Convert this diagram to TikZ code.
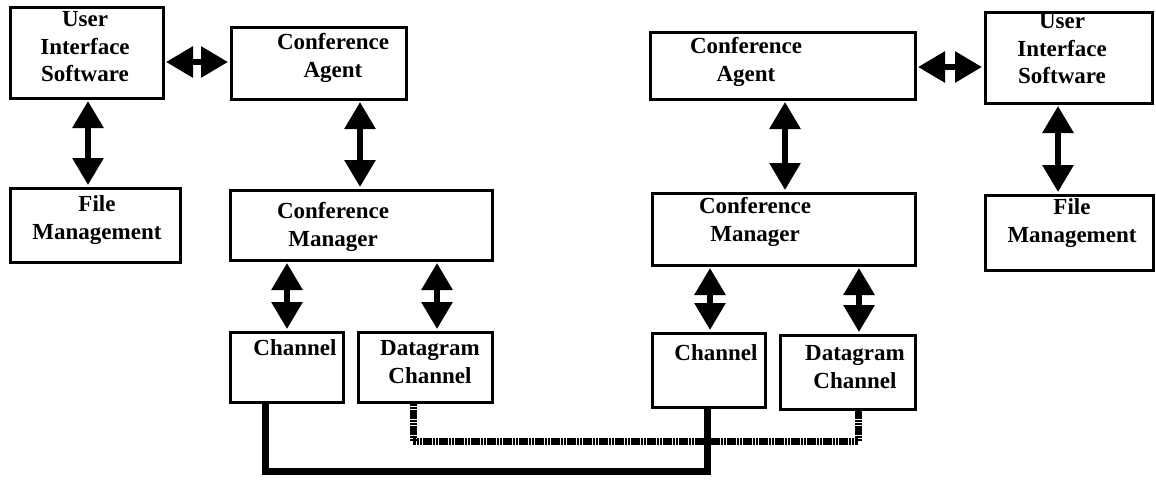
\documentclass[tikz,border=0pt]{standalone}
\usepackage{fontspec}
\setmainfont{Liberation Serif}
\usetikzlibrary{arrows.meta}
\begin{document}
\begin{tikzpicture}[x=1pt,y=-1pt,
  box/.style={draw,line width=3pt,inner sep=0pt,rectangle},
  txt/.style={font=\bfseries\fontsize{23}{27.5}\selectfont,align=center,inner sep=0pt},
  biarrow/.style={line width=6pt,{Triangle[width=30pt,length=27pt]}-{Triangle[width=30pt,length=27pt]},shorten <=1.5pt,shorten >=1.5pt},
  thickline/.style={line width=7pt},
  hatchline/.style={line width=7pt,dash pattern=on 2.6pt off 0.6pt}]
\useasboundingbox (0,0) rectangle (1156,483);

% left station
\node[box,minimum width=153pt,minimum height=91pt] (luis) at (86.5,52.5) {};
\node[box,minimum width=175pt,minimum height=72pt] (lca) at (318.5,63) {};
\node[box,minimum width=170pt,minimum height=74pt] (lfm) at (95,225) {};
\node[box,minimum width=262pt,minimum height=70pt] (lcm) at (361,225) {};
\node[box,minimum width=113pt,minimum height=70pt] (lch) at (286.5,367) {};
\node[box,minimum width=134pt,minimum height=70pt] (ldg) at (425,367) {};

\node[txt] (tluis) at (85,47) {User\\Interface\\Software};
\node[txt] (tlca) at (333,58) {Conference\\Agent};
\node[txt] (tlfm) at (97,220) {File\\Management};
\node[txt] (tlcm) at (333,227) {Conference\\Manager};
\node[txt] (tlch) at (295,348) {Channel};
\node[txt] (tldg) at (430,362) {Datagram\\Channel};

% right station
\node[box,minimum width=265pt,minimum height=67pt] (rca) at (782.5,65.5) {};
\node[box,minimum width=167pt,minimum height=91pt] (ruis) at (1068.5,57.5) {};
\node[box,minimum width=168pt,minimum height=75pt] (rfm) at (1069,232.5) {};
\node[box,minimum width=263pt,minimum height=72pt] (rcm) at (783.5,229) {};
\node[box,minimum width=113pt,minimum height=74pt] (rch) at (708.5,370) {};
\node[box,minimum width=135pt,minimum height=74pt] (rdg) at (847.5,372) {};

\node[txt] (trca) at (746,62) {Conference\\Agent};
\node[txt] (truis) at (1062,49) {User\\Interface\\Software};
\node[txt] (trfm) at (1072,223) {File\\Management};
\node[txt] (trcm) at (755,222) {Conference\\Manager};
\node[txt] (trch) at (716,353) {Channel};
\node[txt] (trdg) at (855,367) {Datagram\\Channel};

% bidirectional links, left
\draw[biarrow] (luis.east |- 0,62) -- (lca.west |- 0,62);
\draw[biarrow] (luis.south -| 88,0) -- (lfm.north -| 88,0);
\draw[biarrow] (lca.south -| 360,0) -- (lcm.north -| 360,0);
\draw[biarrow] (lcm.south -| 287,0) -- (lch.north -| 287,0);
\draw[biarrow] (lcm.south -| 437,0) -- (ldg.north -| 437,0);

% bidirectional links, right
\draw[biarrow] (rca.east |- 0,67) -- (ruis.west |- 0,67);
\draw[biarrow] (rca.south -| 785,0) -- (rcm.north -| 785,0);
\draw[biarrow] (ruis.south -| 1058,0) -- (rfm.north -| 1058,0);
\draw[biarrow] (rcm.south -| 710,0) -- (rch.north -| 710,0);
\draw[biarrow] (rcm.south -| 859,0) -- (rdg.north -| 859,0);

% network lines between the stations
\draw[hatchline] (ldg.south -| 413,0) -- ++(0,38) -| (rdg.south -| 858,0);
\draw[thickline] (lch.south -| 265,0) -- ++(0,68) -| (rch.south -| 707,0);
\end{tikzpicture}
\end{document}
